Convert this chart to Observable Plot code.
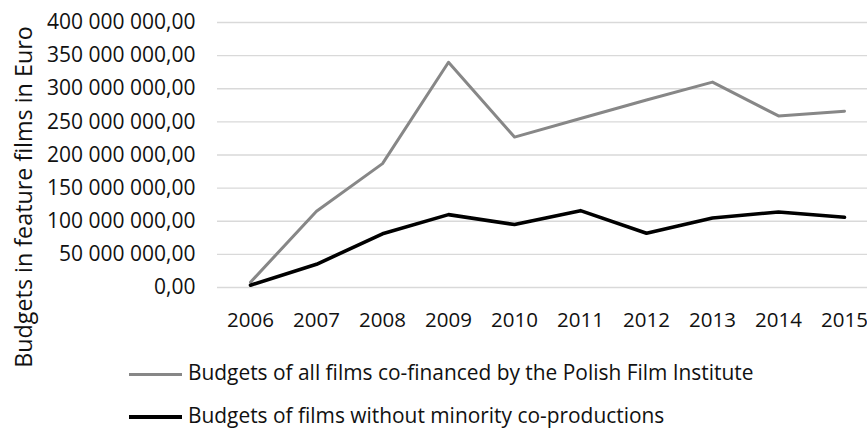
<!DOCTYPE html>
<html>
<head>
<meta charset="utf-8">
<script src="https://cdn.jsdelivr.net/npm/d3@7"></script>
<script src="https://cdn.jsdelivr.net/npm/@observablehq/plot@0.6"></script>
<style>
  body { margin: 0; background: #fff; }
  #chart { position: relative; width: 867px; height: 428px; overflow: hidden; font-family: "Open Sans", sans-serif; color: #111; }
  #chart svg { display: block; }
  .legend-row { position: absolute; left: 129px; height: 22px; display: flex; align-items: center; font-size: 20.9px; line-height: 22px; white-space: nowrap; }
  .swatch { width: 53px; height: 0; margin-right: 6px; position: relative; top: 2px; }
</style>
</head>
<body>
<div id="chart"></div>
<script>
// Years on the horizontal axis
const years = ["2006", "2007", "2008", "2009", "2010", "2011", "2012", "2013", "2014", "2015"];

// Budgets in feature films, in euro
const allFilms = [8e6, 115e6, 187e6, 340e6, 227e6, 255e6, 283e6, 310e6, 259e6, 266e6];
const withoutMinority = [3.5e6, 35e6, 81e6, 110e6, 95e6, 116e6, 82e6, 105e6, 114e6, 106e6];

// Value axis ticks
const yTicks = [0, 50e6, 100e6, 150e6, 200e6, 250e6, 300e6, 350e6, 400e6];

const seriesNames = [
  "Budgets of all films co-financed by the Polish Film Institute",
  "Budgets of films without minority co-productions"
];
const seriesColors = ["#878787", "#000000"];
const seriesWidths = [3, 3.6];
const yTitle = ["Budgets in feature films in Euro"];

// Long-format table built from the arrays above
const rows = [
  ...years.map((year, i) => ({year, value: allFilms[i], series: seriesNames[0]})),
  ...years.map((year, i) => ({year, value: withoutMinority[i], series: seriesNames[1]}))
];

// Space-grouped thousands, comma decimals: "400 000 000,00"
const fmt = d3.formatLocale({decimal: ",", thousands: " ", grouping: [3], currency: ["", ""]}).format(",.2f");

const plot = Plot.plot({
  width: 867,
  height: 428,
  marginTop: 22,
  marginBottom: 141,
  marginLeft: 217,
  marginRight: -10,
  style: {fontFamily: "'Open Sans', sans-serif", fontSize: "21px", color: "#111", background: "#fff"},
  x: {type: "point", domain: years, padding: 0.5, axis: null},
  y: {domain: [0, 400e6], axis: null, label: null},
  marks: [
    Plot.gridY(yTicks, {stroke: "#d9d9d9", strokeOpacity: 1, strokeWidth: 1.4}),
    Plot.axisY({ticks: yTicks, tickSize: 0, tickPadding: 22, tickFormat: fmt, label: null}),
    Plot.axisX({tickSize: 0, tickPadding: 25, label: null, fontSize: 20.5}),
    Plot.text(yTitle, {frameAnchor: "left", rotate: -90, dx: -192.5, dy: 42, fontSize: 23.3, fill: "#111", textAnchor: "middle"}),
    Plot.line(rows.filter(d => d.series === seriesNames[0]), {
      x: "year", y: "value", stroke: seriesColors[0], strokeWidth: seriesWidths[0],
      strokeLinejoin: "round", strokeLinecap: "round"
    }),
    Plot.line(rows.filter(d => d.series === seriesNames[1]), {
      x: "year", y: "value", stroke: seriesColors[1], strokeWidth: seriesWidths[1],
      strokeLinejoin: "round", strokeLinecap: "round"
    })
  ]
});

const chart = document.getElementById("chart");
chart.appendChild(plot);

// Legend laid over the lower part of the figure, one series per row
const legendTops = [361, 404];
seriesNames.forEach((name, i) => {
  const row = document.createElement("div");
  row.className = "legend-row";
  row.style.top = legendTops[i] + "px";
  const sw = document.createElement("span");
  sw.className = "swatch";
  sw.style.borderTop = `${seriesWidths[i] + 0.5}px solid ${seriesColors[i]}`;
  const label = document.createElement("span");
  label.textContent = name;
  row.appendChild(sw);
  row.appendChild(label);
  chart.appendChild(row);
});
</script>
</body>
</html>
